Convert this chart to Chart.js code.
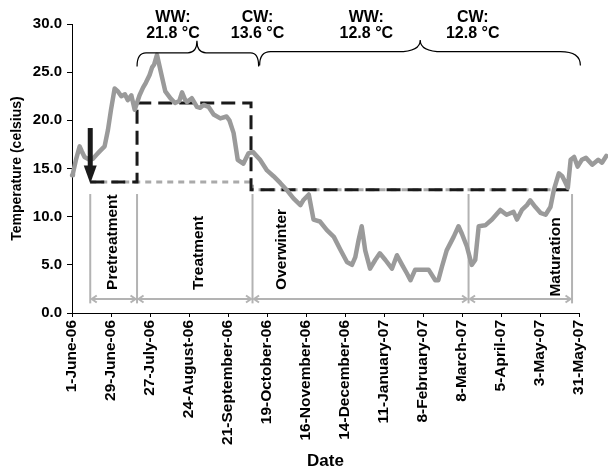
<!DOCTYPE html>
<html><head><meta charset="utf-8">
<script src="https://cdn.jsdelivr.net/npm/chart.js@4/dist/chart.umd.min.js"></script>
<style>html,body{margin:0;padding:0;background:#fff;}#wrap{width:608px;height:470px;}</style>
</head><body><div id="wrap"><canvas id="c" width="608" height="470"></canvas></div>
<script>
// ---- data ----
const tickLabels = ['1-June-06','29-June-06','27-July-06','24-August-06','21-September-06','19-October-06','16-November-06','14-December-06','11-January-07','8-February-07','8-March-07','5-April-07','3-May-07','31-May-07'];
const tickDays = [0,28,56,84,112,140,168,196,224,252,280,308,336,364];
const yTicks = [0,5,10,15,20,25,30];

// days since 1 June 2006
const days = [0,0.7,3,5.5,7,9,12.6,15,17.4,20,23.4,25.8,28,30.6,33,35.4,38,40,42.6,45,48.5,51,53,55.7,57.5,59,61,64.6,67,70.6,74,77,79,81,82.6,86,89.7,92,94.5,98,101.7,106.5,111,113,116,119,123,126.8,130,135,140,144.7,149.5,154,159,164,166,170,173.4,178,183,188,192.6,197.4,201,203.4,205.8,208,210.5,214,217.7,221,225,229.7,233.3,237,240.5,243,246.4,251,256,260.8,263,265.6,269,274,277.5,280,283.5,287,289.5,292,296.7,301.5,307.5,312,317,319.5,323,326.6,329,332.7,336.3,340,343.5,346,349.5,352,354.4,356,358,360.5,363,366,369,373.5,377.8,380.5,383.6];
// water temperature (celsius)
const temps = [14.3,14.5,16.0,17.3,16.8,16.2,15.9,16.0,16.4,16.8,17.3,19.0,21.1,23.3,23.0,22.5,22.7,22.1,22.6,21.1,22.6,23.4,23.9,24.7,25.5,25.8,26.8,24.5,23.0,22.3,21.8,22.0,22.9,22.2,21.9,22.3,21.4,21.3,21.6,21.4,20.6,20.2,20.4,20.0,18.7,15.9,15.5,16.6,16.7,15.9,14.8,14.2,13.5,12.8,11.9,11.2,11.7,12.3,9.7,9.5,8.6,7.9,6.6,5.3,5.0,5.8,7.6,9.0,6.5,4.6,5.5,6.2,5.5,4.6,6.0,5.0,4.1,3.4,4.5,4.5,4.5,3.4,3.4,4.8,6.5,7.9,9.0,8.2,6.9,5.0,5.5,9.0,9.1,9.7,10.7,10.2,10.5,9.7,10.7,11.2,11.7,11.0,10.4,10.2,11.0,12.8,14.5,14.2,13.5,13.0,15.9,16.2,15.2,15.9,16.1,15.4,15.9,15.6,16.3];

const periodBounds = [13.1, 46.7, 129.6, 284.7, 359];   // days
const periodNames = ['Pretreatment','Treatment','Overwinter','Maturation'];
const wwProfile = [13.6, 21.8, 12.8];   // warm-winter treatment levels
const cwProfile = [13.6, 12.8];         // cold-winter levels
const braceLabels = [['WW:','21.8 °C'],['CW:','13.6 °C'],['WW:','12.8 °C'],['CW:','12.8 °C']];

const FONT = '"Liberation Sans", Arial, sans-serif';
Chart.defaults.font.family = FONT;
Chart.defaults.color = '#000';

const annot = {
  id: 'annot',
  beforeDatasetsDraw(chart) {
    const {ctx, scales:{x, y}} = chart;
    const X = d => x.getPixelForValue(d), Y = t => y.getPixelForValue(t);
    ctx.save();
    // gray period boundary lines
    ctx.strokeStyle = '#b3b3b3'; ctx.lineWidth = 2;
    periodBounds.forEach(d => {
      ctx.beginPath(); ctx.moveTo(X(d), Y(12.35)); ctx.lineTo(X(d), Y(1.0)); ctx.stroke();
    });
    // double arrows
    const ay = Y(1.45);
    for (let i = 0; i < periodBounds.length - 1; i++) {
      const x0 = X(periodBounds[i]) + 1.5, x1 = X(periodBounds[i+1]) - 1.5;
      ctx.beginPath(); ctx.moveTo(x0, ay); ctx.lineTo(x1, ay); ctx.stroke();
      ctx.beginPath(); ctx.moveTo(x0 + 5, ay - 3.5); ctx.lineTo(x0, ay); ctx.lineTo(x0 + 5, ay + 3.5); ctx.stroke();
      ctx.beginPath(); ctx.moveTo(x1 - 5, ay - 3.5); ctx.lineTo(x1, ay); ctx.lineTo(x1 - 5, ay + 3.5); ctx.stroke();
    }
    // cold-winter profile (gray dashed)
    const b = periodBounds, endDay = 357;
    ctx.lineWidth = 3; ctx.setLineDash([6, 5]); ctx.strokeStyle = '#aaaaaa';
    ctx.beginPath();
    ctx.moveTo(X(b[0]), Y(cwProfile[0])); ctx.lineTo(X(b[2]), Y(cwProfile[0]));
    ctx.lineTo(X(b[2]), Y(cwProfile[1])); ctx.lineTo(X(endDay), Y(cwProfile[1]));
    ctx.stroke();
    // warm-winter profile (black dashed)
    ctx.setLineDash([14, 7]); ctx.strokeStyle = '#1a1a1a';
    ctx.beginPath();
    ctx.moveTo(X(b[0]), Y(wwProfile[0])); ctx.lineTo(X(b[1]), Y(wwProfile[0]));
    ctx.lineTo(X(b[1]), Y(wwProfile[1])); ctx.lineTo(X(b[2]) - 1.5, Y(wwProfile[1]));
    ctx.lineTo(X(b[2]) - 1.5, Y(wwProfile[2])); ctx.lineTo(X(endDay), Y(wwProfile[2]));
    ctx.stroke();
    ctx.setLineDash([]);
    // period labels (rotated)
    ctx.fillStyle = '#000'; ctx.font = 'bold 15.5px ' + FONT;
    ctx.textAlign = 'left'; ctx.textBaseline = 'middle';
    const labelDays = [29.0, 91.0, 150.8, 347.0];
    const labelBottoms = [2.4, 2.4, 2.4, 1.7];
    periodNames.forEach((n, i) => {
      ctx.save(); ctx.translate(X(labelDays[i]), Y(labelBottoms[i])); ctx.rotate(-Math.PI/2);
      ctx.fillText(n, 0, 0); ctx.restore();
    });
    ctx.restore();
  },
  afterDatasetsDraw(chart) {
    const {ctx, scales:{x, y}} = chart;
    const X = d => x.getPixelForValue(d), Y = t => y.getPixelForValue(t);
    ctx.save();
    // black arrow at start of pretreatment
    const ax = X(periodBounds[0]);
    ctx.fillStyle = '#1a1a1a';
    ctx.fillRect(ax - 2.5, Y(19.2), 5, Y(15.2) - Y(19.2));
    ctx.beginPath(); ctx.moveTo(ax - 6.5, Y(15.3)); ctx.lineTo(ax + 6.5, Y(15.3)); ctx.lineTo(ax, Y(13.45)); ctx.closePath(); ctx.fill();
    // braces
    ctx.strokeStyle = '#000'; ctx.lineWidth = 1.2;
    const braces = [
      {d0: 46.7, d1: 134.0, tip: 89.7, r0: 9, rt: 9, r1: 8, line: 27.0, top: 28.25, end: 25.6},
      {d0: 134.7, d1: 365.0, tip: 250.0, r0: 11, rt: 22, r1: 20, line: 27.13, top: 28.35, end: 25.7}
    ];
    braces.forEach(br => {
      const x0 = X(br.d0), x1 = X(br.d1), xt = X(br.tip);
      const yl = Y(br.line), yt = Y(br.top), ye = Y(br.end);
      ctx.beginPath();
      ctx.moveTo(x0, ye);
      ctx.quadraticCurveTo(x0, yl, x0 + br.r0, yl);
      ctx.lineTo(xt - br.rt, yl);
      ctx.quadraticCurveTo(xt, yl, xt, yt);
      ctx.quadraticCurveTo(xt, yl, xt + br.rt, yl);
      ctx.lineTo(x1 - br.r1, yl);
      ctx.quadraticCurveTo(x1, yl, x1, ye);
      ctx.stroke();
    });
    // brace labels
    ctx.fillStyle = '#000'; ctx.font = 'bold 16px ' + FONT;
    ctx.textAlign = 'center'; ctx.textBaseline = 'alphabetic';
    const textDays = [72.5, 133.2, 211.3, 287.7];
    braceLabels.forEach((t, i) => {
      ctx.fillText(t[0], X(textDays[i]), Y(30.2));
      ctx.fillText(t[1], X(textDays[i]), Y(28.55));
    });
    ctx.restore();
  }
};

new Chart(document.getElementById('c'), {
  type: 'line',
  data: {
    datasets: [{
      data: days.map((d, i) => ({x: d, y: temps[i]})),
      borderColor: '#9a9a9a', borderWidth: 4.5, pointRadius: 0, tension: 0,
      borderJoinStyle: 'round', borderCapStyle: 'round', clip: false
    }]
  },
  options: {
    responsive: false, animation: false, devicePixelRatio: 1,
    layout: {padding: {top: 24, right: 29, left: 0, bottom: 0}},
    plugins: {legend: {display: false}, tooltip: {enabled: false}},
    scales: {
      x: {
        type: 'linear', bounds: 'data',
        afterDataLimits: s => { s.min = tickDays[0]; s.max = tickDays[tickDays.length - 1]; },
        afterBuildTicks: s => { s.ticks = tickDays.map(v => ({value: v})); },
        afterFit: s => { s.height = 157; },
        ticks: {autoSkip: false, minRotation: 90, maxRotation: 90, padding: 3,
          font: {size: 15.5, weight: 'bold'}, color: '#000',
          callback: v => tickLabels[tickDays.indexOf(v)]},
        grid: {drawOnChartArea: false, tickLength: 4, color: '#000'},
        border: {color: '#000', width: 1},
        title: {display: true, text: 'Date', font: {size: 17, weight: 'bold', lineHeight: 1}, padding: {top: 0, bottom: 0}, color: '#000'}
      },
      y: {
        min: 0, max: 30,
        afterBuildTicks: s => { s.ticks = yTicks.map(v => ({value: v})); },
        afterFit: s => { s.width = 72; },
        ticks: {padding: 5, font: {size: 15, weight: 'bold'}, color: '#000', callback: v => v.toFixed(1)},
        grid: {drawOnChartArea: false, tickLength: 5, color: '#000'},
        border: {color: '#000', width: 1},
        title: {display: true, text: 'Temperature (celsius)', font: {size: 14, weight: 'bold', lineHeight: 1.2}, padding: {top: 9, bottom: 0}, color: '#000'}
      }
    }
  },
  plugins: [annot]
});
</script></body></html>
